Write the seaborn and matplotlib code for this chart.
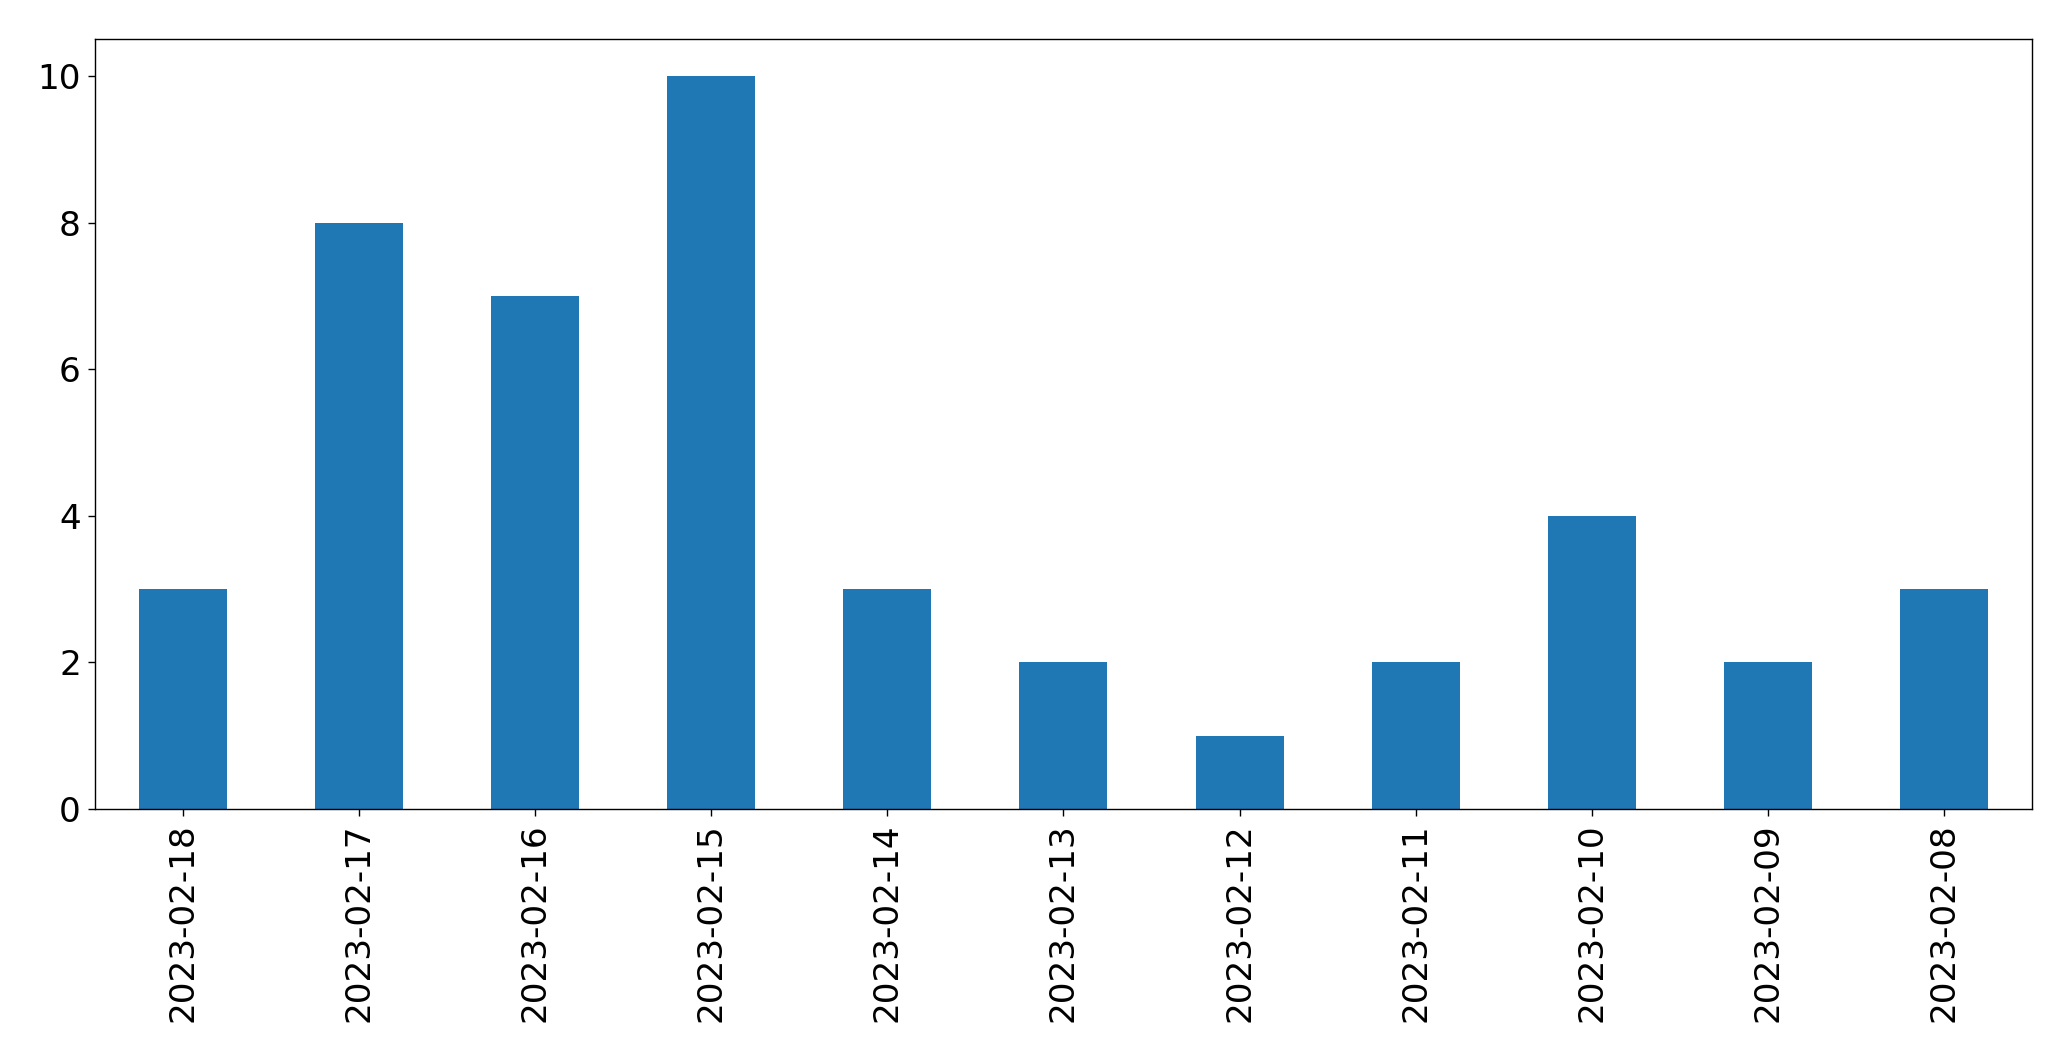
import seaborn as sns
import matplotlib.pyplot as plt
import pandas as pd

dates = ["2023-02-18", "2023-02-17", "2023-02-16", "2023-02-15", "2023-02-14",
         "2023-02-13", "2023-02-12", "2023-02-11", "2023-02-10", "2023-02-09",
         "2023-02-08"]
counts = [3, 8, 7, 10, 3, 2, 1, 2, 4, 2, 3]

df = pd.DataFrame({"date": dates, "count": counts})

fig = plt.figure(figsize=(20.71, 10.61), dpi=100)
ax = fig.add_axes([0.0459, 0.2375, 0.9352, 0.7255])
sns.barplot(data=df, x="date", y="count", color="#1f77b4", saturation=1, width=0.5, ax=ax)

ax.set_xlim(-0.5, len(dates) - 0.5)
ax.set_ylim(0, 10.5)
ax.set_xlabel("")
ax.set_ylabel("")
ax.tick_params(axis="both", labelsize=24.7, length=5.3, width=1, pad=5)
ax.tick_params(axis="x", labelrotation=90)
for s in ax.spines.values():
    s.set_color("black")
    s.set_linewidth(1)

fig.savefig("out.png", dpi=100)
